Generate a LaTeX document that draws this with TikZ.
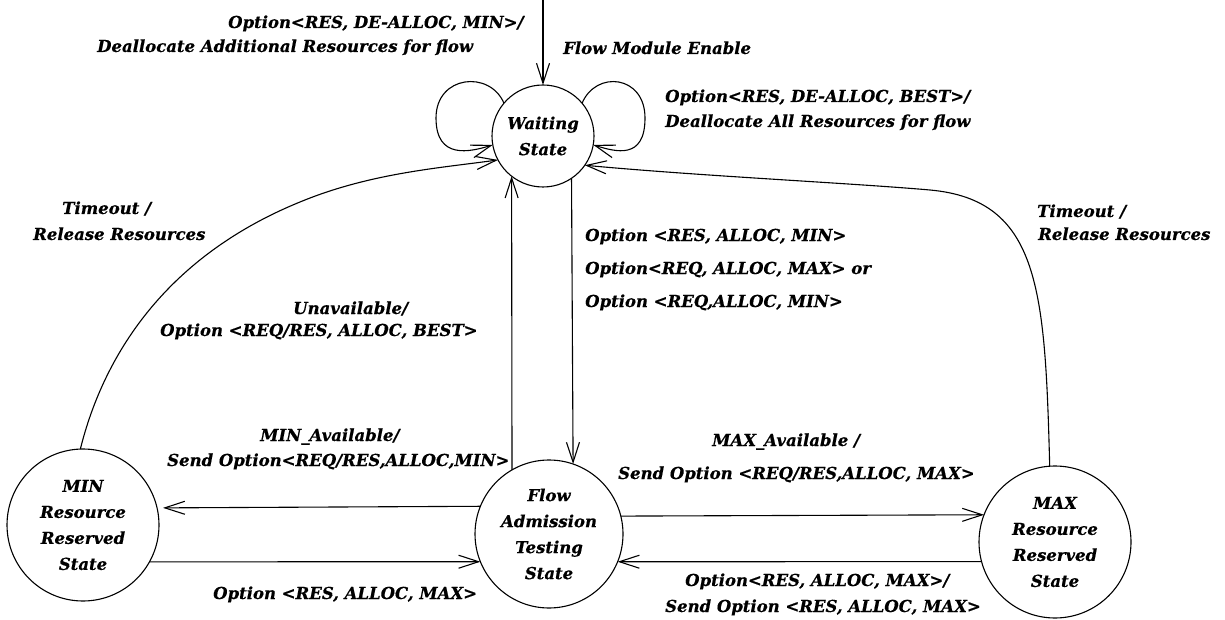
\documentclass[tikz,border=0pt]{standalone}
\usepackage{fontspec}
\setmainfont{DejaVu Serif}[BoldItalicFeatures={FakeBold=0.5}]
\usetikzlibrary{arrows.meta}
\begin{document}
\begin{tikzpicture}[x=1pt,y=1pt,
  every node/.style={font=\fontsize{16.5}{26}\selectfont\bfseries\itshape},
  stnode/.style={circle,draw,line width=1.1pt,inner sep=0pt,outer sep=0pt,align=center},
  lbl/.style={anchor=west,inner sep=0pt,text height=12pt,text depth=4pt},
  trans/.style={line width=1.1pt,-{Straight Barb[length=20pt,width=13pt,line width=1.1pt]}},
]
\useasboundingbox (0,0) rectangle (1225,-620);

% states
\node[stnode,minimum size=102pt] (wait) at (543,-136) {Waiting\\State};
\node[stnode,minimum size=148pt] (flow) at (549,-534) {Flow\\Admission\\Testing\\State};
\node[stnode,minimum size=152pt] (min)  at (83,-525)  {MIN\\Resource\\Reserved\\State};
\node[stnode,minimum size=152pt] (max)  at (1055,-542) {MAX\\Resource\\Reserved\\State};

% entry arrow
\coordinate (enter) at (543,0);
\draw[trans] (enter) -- (wait);

% self loops on the waiting state
\draw[trans] (wait.140) .. controls (490,-70) and (436,-75) .. (436,-118)
  .. controls (436,-160) and (470,-152) .. (wait.190);
\draw[trans] (wait.40) .. controls (596,-70) and (645,-75) .. (645,-118)
  .. controls (645,-160) and (616,-152) .. (wait.-10);

% timeouts back to waiting
\draw[trans] (min.92) .. controls (105,-350) and (170,-255) .. (300,-202)
  .. controls (370,-173) and (440,-168) .. (wait.208);
\draw[trans] (max.94) .. controls (1045,-290) and (1040,-200) .. (930,-190)
  .. controls (850,-183) and (700,-176) .. (wait.-35);

% waiting <-> flow admission
\draw[trans] (flow.120) -- (wait.232.6);
\draw[trans] (wait.304.6) -- (flow.71.8);

% flow admission <-> min / max
\draw[trans,shorten >=6pt] (flow.158.6) -- (min.13.7);
\draw[trans] (min.-29.1) -- (flow.202.2);
\draw[trans] (flow.14.9) -- (max.159.2);
\draw[trans] (max.195.26) -- (flow.-22.2);

% transition labels
\node[lbl] (l1a) at (228,-24) {Option<RES, DE-ALLOC, MIN>/};
\node[lbl] (l1b) at (97,-48) {Deallocate Additional Resources for flow};
\node[lbl] (l2) at (563,-50) {Flow Module Enable};
\node[lbl] (l3a) at (665,-98) {Option<RES, DE-ALLOC, BEST>/};
\node[lbl] (l3b) at (665,-123) {Deallocate All Resources for flow};
\node[lbl] (l4a) at (62,-210) {Timeout /};
\node[lbl] (l4b) at (33,-236) {Release Resources};
\node[lbl] (l5a) at (1037,-213) {Timeout /};
\node[lbl] (l5b) at (1038,-236) {Release Resources};
\node[lbl] (l6a) at (585,-237) {Option <RES, ALLOC, MIN>};
\node[lbl] (l6b) at (585,-270) {Option<REQ, ALLOC, MAX> or};
\node[lbl] (l6c) at (585,-303) {Option <REQ,ALLOC, MIN>};
\node[lbl] (l7a) at (293,-310) {Unavailable/};
\node[lbl] (l7b) at (160,-332) {Option <REQ/RES, ALLOC, BEST>};
\node[lbl] (l8a) at (260,-437) {MIN\_Available/};
\node[lbl] (l8b) at (167,-462) {Send Option<REQ/RES,ALLOC,MIN>};
\node[lbl] (l9) at (213,-595) {Option <RES, ALLOC, MAX>};
\node[lbl] (l10a) at (712,-442) {MAX\_Available /};
\node[lbl] (l10b) at (618,-475) {Send Option <REQ/RES,ALLOC, MAX>};
\node[lbl] (l11a) at (685,-582) {Option<RES, ALLOC, MAX>/};
\node[lbl] (l11b) at (665,-608) {Send Option <RES, ALLOC, MAX>};
\end{tikzpicture}
\end{document}
